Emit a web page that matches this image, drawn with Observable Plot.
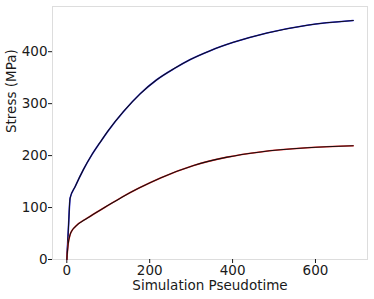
<!DOCTYPE html>
<html><head><meta charset="utf-8">
<script src="https://cdn.jsdelivr.net/npm/d3@7"></script>
<script src="https://cdn.jsdelivr.net/npm/@observablehq/plot@0.6"></script>
<style>body{margin:0;background:#fff} svg{font-family:"DejaVu Sans"}</style>
</head><body><div id="chart"></div>
<script>
const upperTime   = [0, 4, 8, 20, 40, 60, 80, 100, 137, 177, 217, 260, 298, 346, 402, 483, 580, 691];
const upperStress = [0, 62, 118, 140, 173, 201, 225, 248, 285, 319, 346, 368, 385, 402, 418, 436, 451, 460];
const lowerTime   = [0, 3, 8, 12, 20, 50, 93, 133, 173, 226, 306, 387, 467, 580, 691];
const lowerStress = [0, 28, 48, 55, 63, 80, 101, 120, 137, 157, 181, 197, 207, 215, 219];
const xTicks = [0, 200, 400, 600];
const yTicks = [0, 100, 200, 300, 400];
const xLabel = "Simulation Pseudotime";
const yLabel = "Stress (MPa)";

const upper = upperTime.map((t, i) => ({t, s: upperStress[i]}));
const lower = lowerTime.map((t, i) => ({t, s: lowerStress[i]}));

const chart = Plot.plot({
  width: 374, height: 299,
  marginLeft: 52, marginRight: 7, marginTop: 6, marginBottom: 40,
  style: {fontFamily: "DejaVu Sans", fontSize: "13.5px", color: "#1a1a1a", background: "#fff"},
  x: {domain: [-34.5, 725.5]},
  y: {domain: [0, 487]},
  marks: [
    Plot.frame({stroke: "#ddd"}),
    Plot.axisX({ticks: xTicks, tickSize: 4, tickPadding: 2, label: null, fontSize: 13.5}),
    Plot.axisY({ticks: yTicks, tickSize: 4, tickPadding: 1, label: null, fontSize: 13.5}),
    Plot.line(upper, {x: "t", y: "s", stroke: "#2a2aff", strokeWidth: 1.6, curve: "monotone-x"}),
    Plot.line(upper, {x: "t", y: "s", stroke: "#111", strokeWidth: 1.1, curve: "monotone-x"}),
    Plot.line(lower, {x: "t", y: "s", stroke: "#ff3030", strokeWidth: 1.6, curve: "monotone-x"}),
    Plot.line(lower, {x: "t", y: "s", stroke: "#111", strokeWidth: 1.1, curve: "monotone-x"}),
    Plot.text([xLabel], {frameAnchor: "bottom", lineAnchor: "middle", dy: 26, text: d => d, fontSize: 13.5, fill: "#1a1a1a"}),
    Plot.text([yLabel], {frameAnchor: "left", lineAnchor: "middle", dx: -40.5, rotate: -90, text: d => d, fontSize: 13.5, fill: "#1a1a1a"})
  ]
});
document.getElementById("chart").append(chart);
</script>
</body></html>
